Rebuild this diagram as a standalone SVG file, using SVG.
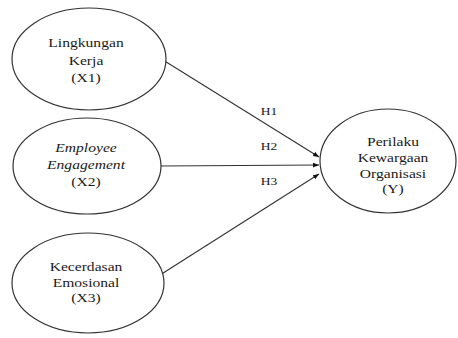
<svg xmlns="http://www.w3.org/2000/svg" width="458" height="338" viewBox="0 0 458 338">
<defs>
<style>
.node ellipse{fill:#fff;stroke:#333;stroke-width:1.2}
text{font-family:"Liberation Serif","Times New Roman",serif;font-size:12px;fill:#1a1a1a;text-anchor:middle}
.lbl{font-size:10px}
.conn line{stroke:#333;stroke-width:1.1}
</style>
<marker id="ah" viewBox="0 0 10 10" refX="10" refY="5" markerWidth="6" markerHeight="6" orient="auto" markerUnits="userSpaceOnUse">
<path d="M0,1 L10,5 L0,9 z" fill="#111"/>
</marker>
</defs>
<rect width="458" height="338" fill="#fff"/>
<g id="connectors" class="conn">
<line x1="163" y1="60" x2="319" y2="157" marker-end="url(#ah)"/>
<line x1="161" y1="166" x2="319" y2="165" marker-end="url(#ah)"/>
<line x1="160" y1="275" x2="319" y2="174" marker-end="url(#ah)"/>
<text class="lbl" transform="translate(269,115) scale(1.35,1)">H1</text>
<text class="lbl" transform="translate(269,150) scale(1.35,1)">H2</text>
<text class="lbl" transform="translate(269,185) scale(1.35,1)">H3</text>
</g>
<g id="x1" class="node">
<ellipse cx="89" cy="59" rx="77" ry="51"/>
<text transform="translate(86,47) scale(1.3,1)">Lingkungan</text>
<text transform="translate(86,65) scale(1.3,1)">Kerja</text>
<text transform="translate(86,82) scale(1.3,1)">(X1)</text>
</g>
<g id="x2" class="node">
<ellipse cx="87" cy="166" rx="74" ry="48"/>
<text transform="translate(86,152) scale(1.3,1)" font-style="italic">Employee</text>
<text transform="translate(86,169) scale(1.3,1)" font-style="italic">Engagement</text>
<text transform="translate(86,186) scale(1.3,1)">(X2)</text>
</g>
<g id="x3" class="node">
<ellipse cx="88" cy="283" rx="76" ry="50"/>
<text transform="translate(86,271) scale(1.3,1)">Kecerdasan</text>
<text transform="translate(86,287) scale(1.3,1)">Emosional</text>
<text transform="translate(86,302) scale(1.3,1)">(X3)</text>
</g>
<g id="y" class="node">
<ellipse cx="388" cy="161" rx="68" ry="52"/>
<text transform="translate(393,146) scale(1.3,1)">Perilaku</text>
<text transform="translate(393,162) scale(1.3,1)">Kewargaan</text>
<text transform="translate(393,178) scale(1.3,1)">Organisasi</text>
<text transform="translate(393,193) scale(1.3,1)">(Y)</text>
</g>
</svg>
